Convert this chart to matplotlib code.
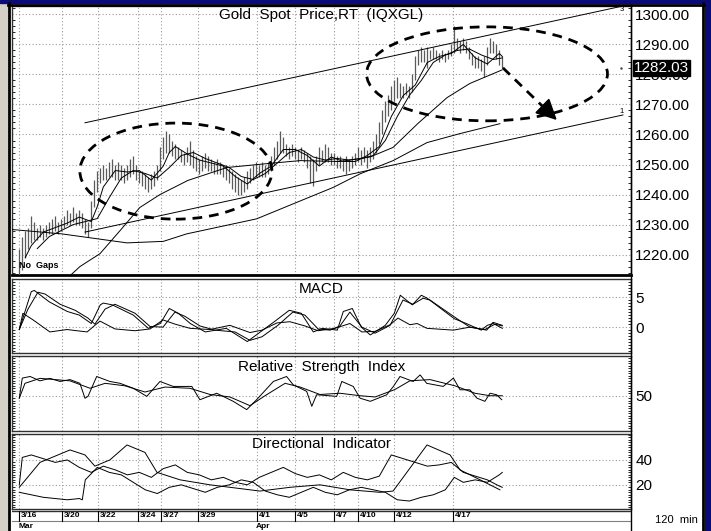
import matplotlib
matplotlib.use('Agg')
import matplotlib.pyplot as plt
from matplotlib.patches import Ellipse, Rectangle
from matplotlib.lines import Line2D
from matplotlib.ticker import MultipleLocator

plt.rcParams['font.family'] = ['Liberation Sans', 'DejaVu Sans']

# ---------------- data ----------------
date_labels = ['3/16', '3/20', '3/22', '3/24', '3/27', '3/29', '4/1', '4/5', '4/7', '4/10', '4/12', '4/17']
date_pos = [0, 14.2, 26.3, 39.5, 47.1, 59.6, 79.1, 92, 105, 112.9, 125, 144.7]
month_labels = ['Mar', 'Apr']
month_pos = [0, 79.1]

bar_high = [1222, 1226, 1228, 1229, 1233, 1231, 1229, 1230, 1229, 1230,
            1231, 1232, 1233, 1231, 1232, 1233, 1235, 1234, 1236, 1234,
            1235, 1234, 1232, 1231, 1238, 1245, 1248, 1249, 1250, 1249,
            1251, 1252, 1250, 1251, 1250, 1249, 1250, 1252, 1253, 1250,
            1248, 1248, 1247, 1246, 1247, 1248, 1250, 1256, 1259, 1261,
            1260, 1258, 1257, 1256, 1255, 1254, 1256, 1258, 1255, 1253,
            1252, 1253, 1254, 1253, 1252, 1251, 1252, 1251, 1250, 1250,
            1249, 1248, 1247, 1246, 1245, 1246, 1248, 1249, 1250, 1251,
            1250, 1251, 1250, 1251, 1253, 1256, 1258, 1261, 1259, 1257,
            1256, 1257, 1256, 1255, 1256, 1255, 1254, 1253, 1252, 1253,
            1256, 1255, 1257, 1256, 1254, 1254, 1253, 1253, 1252, 1253,
            1252, 1253, 1254, 1256, 1255, 1256, 1255, 1256, 1258, 1260,
            1264, 1268, 1271, 1273, 1276, 1278, 1279, 1277, 1276, 1277,
            1276, 1280, 1286, 1288, 1289, 1288, 1289, 1288, 1289, 1288,
            1287, 1288, 1287, 1288, 1290, 1296, 1292, 1291, 1292, 1291,
            1289, 1287, 1286, 1286, 1285, 1286, 1289, 1292, 1291, 1290,
            1288, 1286]
bar_low = [1213, 1215, 1219, 1222, 1224, 1225, 1225, 1226, 1225, 1226,
           1227, 1227, 1228, 1227, 1228, 1229, 1230, 1230, 1231, 1230,
           1230, 1229, 1227, 1226, 1229, 1236, 1241, 1244, 1245, 1245,
           1246, 1246, 1245, 1245, 1245, 1244, 1245, 1246, 1247, 1245,
           1244, 1243, 1242, 1241, 1242, 1243, 1245, 1248, 1252, 1254,
           1254, 1253, 1252, 1252, 1251, 1250, 1251, 1250, 1249, 1248,
           1247, 1248, 1249, 1248, 1248, 1247, 1247, 1247, 1246, 1245,
           1244, 1242, 1241, 1240, 1240, 1241, 1242, 1244, 1245, 1246,
           1246, 1246, 1246, 1247, 1248, 1250, 1252, 1254, 1254, 1253,
           1252, 1253, 1252, 1251, 1252, 1251, 1249, 1244, 1243, 1248,
           1250, 1251, 1251, 1251, 1250, 1250, 1249, 1249, 1248, 1247,
           1248, 1249, 1250, 1251, 1250, 1251, 1249, 1251, 1252, 1254,
           1257, 1260, 1264, 1266, 1268, 1271, 1272, 1272, 1272, 1273,
           1272, 1274, 1278, 1283, 1284, 1284, 1282, 1285, 1285, 1285,
           1284, 1285, 1284, 1285, 1286, 1287, 1288, 1287, 1288, 1287,
           1285, 1283, 1282, 1282, 1281, 1279, 1283, 1287, 1287, 1285,
           1283, 1282]
last_price = 1282.03

ma_fast_x = [2, 4, 8, 12, 16, 20, 24, 26, 28, 32, 36, 40, 44, 48, 50, 52, 56, 60, 64, 68,
             72, 76, 80, 84, 88, 92, 96, 100, 104, 108, 112, 116, 120, 124, 128, 132, 136,
             140, 144, 148, 152, 156, 160, 161]
ma_fast_y = [1219, 1223, 1227.5, 1229, 1230.5, 1232.5, 1231, 1236, 1242.5, 1248, 1247.5, 1248,
             1244.8, 1249.5, 1254, 1256, 1253.5, 1251.5, 1250.5, 1249.5, 1246, 1243.5, 1247,
             1249.5, 1255, 1255, 1253, 1249.5, 1252.5, 1251, 1251, 1253, 1256, 1266, 1273,
             1276.5, 1284, 1286, 1287, 1290, 1285.5, 1283.5, 1287, 1286]
ma_mid_x = [6, 10, 14, 18, 22, 26, 30, 34, 38, 42, 46, 50, 54, 58, 62, 66, 70, 74, 78, 82,
            86, 90, 94, 98, 102, 106, 110, 114, 118, 122, 126, 130, 134, 138, 142, 146, 150,
            154, 158, 161]
ma_mid_y = [1222, 1226, 1228, 1230, 1231, 1232, 1239, 1245.5, 1248, 1247, 1245.5, 1249, 1253,
            1254, 1252, 1250.5, 1249, 1246, 1245, 1247, 1250.5, 1254, 1255, 1252.5, 1251.5,
            1252, 1251.5, 1252, 1253, 1258, 1266, 1273, 1278, 1284, 1286.5, 1288, 1288.5,
            1286.5, 1285, 1285.5]
ma_slow_x = [14, 16.2, 20.2, 26.9, 33.6, 40.2, 46.9, 56.2, 69.2, 82.6, 93.6, 106.9, 116.9,
             124.6, 132.9, 142.6, 150.2, 160.9]
ma_slow_y = [1208, 1212.3, 1216, 1220.3, 1228, 1235.7, 1240, 1244.7, 1249, 1250.3, 1251.3,
             1251, 1252.5, 1255.7, 1263.7, 1272.3, 1277, 1281.5]
ma_long_x = [-3, 14.1, 35.9, 48, 55.8, 79.1, 104.7, 113.6, 124.6, 135.9, 146.9, 160.2]
ma_long_y = [1228.4, 1226.9, 1223.9, 1224.4, 1226.9, 1231.9, 1242.4, 1246.9, 1251.3, 1257.3,
             1260.3, 1263.6]

trend_upper_x = [21.9, 201.2]
trend_upper_y = [1263.9, 1302.8]
trend_lower_x = [21.9, 201.2]
trend_lower_y = [1227.5, 1266.5]

macd_x = [0, 4, 5, 10, 16, 20, 24, 27, 28, 31, 38, 43, 47, 50, 53, 57, 62, 69, 76, 79, 85,
          90, 94, 98, 101, 106, 108, 111, 114, 117, 122, 125, 127, 131, 134, 136, 145, 149,
          154, 156, 158, 161]
macd_y = [-0.4, 5.9, 6.1, 4.2, 2.6, 2.0, 0.6, 3.7, 4.0, 3.7, 2.0, -0.2, 0.6, 3.1, 2.3, 0.6,
          -0.8, -0.2, -2.4, -1.3, 0.9, 2.8, 2.3, -0.8, -0.2, -0.5, 2.6, 3.1, 0.0, -1.3, 0.3,
          2.3, 5.3, 3.7, 5.3, 4.8, 1.4, 0.6, -0.5, 0.3, 0.6, -0.2]
signal_x = [0, 2.9, 6.2, 8.6, 13.6, 18.6, 22.9, 25.2, 28.6, 31.9, 38.6, 43.6, 47.9, 51.9,
            55.2, 60.2, 65.2, 71.9, 76.9, 80.9, 86.2, 91.2, 95.2, 99.6, 103.6, 106.9, 110.2,
            114.2, 118.6, 123.6, 127.9, 131.2, 134.6, 136.9, 146.2, 150.2, 155.2, 158.6, 161]
signal_y = [-0.4, 3.0, 5.8, 5.5, 3.8, 2.8, 1.5, 0.5, 3.0, 3.8, 2.3, 0.1, 0.0, 2.5, 1.8, 0.2,
            -0.5, -0.8, -2.2, -1.6, 0.3, 2.5, 2.0, -0.3, -0.5, 0.2, 2.5, 0.0, -1.0, 0.3, 4.5,
            3.8, 4.8, 4.5, 1.3, 0.0, -0.4, 0.5, 0.2]
osc_x = [0, 1.2, 4.6, 10.2, 15.9, 22.6, 25.2, 26.9, 31.9, 38.6, 43.6, 47.9, 51.9, 56.9, 63.6,
         70.2, 76.9, 80.9, 85.9, 90.2, 95.2, 99.6, 105.2, 110.2, 114.2, 118.6, 123.6, 126.2,
         130.2, 132.6, 135.9, 144.7, 150.2, 155.8, 157.9, 161]
osc_y = [-0.4, 2.3, 1.2, -0.8, -0.4, -0.8, 0.3, 1.0, -0.3, -0.6, -0.3, 1.2, 0.5, -0.2, -0.4,
         0.3, -0.9, -0.5, 0.7, 0.9, 0.2, -0.6, -0.2, 0.6, -0.8, -0.7, 0.4, 1.5, 0.4, 0.6,
         -0.2, -0.5, 0.0, -0.5, 0.8, 0.3]

rsi_x = [0, 1, 3.6, 6.9, 10.2, 13.6, 16.9, 20.2, 21.9, 22.9, 25.8, 30.2, 33.6, 38, 42.5, 46.9,
         51.3, 57.5, 60.2, 65.8, 71.3, 75.8, 79.1, 84.7, 89.1, 91.3, 95.8, 97.5, 99.1, 105.8,
         107.5, 111.3, 113.6, 117, 122.5, 124.7, 126.9, 131.3, 133.6, 135.8, 141.3, 144.7,
         146.9, 150.2, 152.5, 155.2, 156.9, 159.1, 160.8]
rsi_y = [48.1, 64.2, 65.5, 62, 64, 61.5, 63, 60, 48, 49.5, 65.5, 61.5, 60, 56, 49.5, 61.5,
         57.5, 57.5, 46.8, 52, 45.5, 38.8, 46.8, 61.5, 65.5, 58.8, 53.5, 41.5, 50.8, 49.5,
         61.5, 57.5, 48, 45.5, 50.8, 57.5, 65.5, 61.5, 66.8, 60, 57.5, 64.2, 54.8, 54.8,
         48.1, 45.5, 52, 50.8, 46.8]
rsi_avg_x = [0, 1.9, 6.9, 16.9, 23.6, 28.6, 35.2, 41.9, 48.6, 56.9, 63.6, 70.2, 76.9, 81.9,
             88.6, 93.6, 100.2, 106.9, 113.6, 118.6, 125.2, 130.2, 136.9, 145.2, 151.9, 156.9, 161]
rsi_avg_y = [48, 60, 64, 62, 56, 60, 58, 53, 57, 56, 51, 49, 42, 50, 60, 57, 51, 52, 50, 49,
             55, 62, 63, 58, 52, 50, 50]

adx_x = [0, 6.9, 16.9, 21.9, 25.2, 30.2, 35.9, 41.9, 45.9, 53.6, 63.6, 73.6, 80.2, 90.2,
         100.2, 110.2, 120.2, 124.6, 135.9, 143.6, 146.9, 153.6, 160.2]
adx_y = [18, 38, 48, 44, 35, 40, 52, 46, 30, 24, 20, 17, 15, 18, 20, 16, 14, 15, 52, 44, 32,
         24, 16]
pdi_x = [0, 1, 4, 8, 12, 16, 20, 24, 28, 32, 36, 40, 44, 48, 52, 56, 60, 64, 68, 72, 76, 80,
         84, 88, 92, 96, 100, 104, 108, 112, 116, 120, 124, 128, 132, 136, 140, 144, 148,
         152, 156, 160, 161]
pdi_y = [20, 42, 44, 41, 38, 40, 34, 30, 35, 32, 28, 30, 26, 33, 36, 30, 28, 24, 26, 22, 20,
         26, 30, 34, 29, 26, 28, 24, 30, 26, 24, 27, 44, 41, 38, 35, 36, 38, 30, 27, 24, 19, 18]
mdi_x = [0, 4, 8, 12, 16, 20, 21, 22, 26, 30, 34, 38, 42, 46, 50, 54, 58, 62, 66, 70, 74, 78,
         82, 86, 90, 94, 98, 102, 106, 110, 114, 118, 122, 126, 130, 134, 138, 142, 145, 148,
         152, 156, 160, 161]
mdi_y = [14, 12, 10, 9, 8, 9, 8, 24, 34, 30, 28, 22, 16, 13, 18, 20, 17, 14, 18, 20, 24, 22,
         15, 12, 10, 14, 18, 14, 12, 16, 18, 16, 14, 8, 7, 10, 12, 16, 26, 22, 24, 22, 28, 30]

# ---------------- layout ----------------
W, H = 711, 531
fig = plt.figure(figsize=(W / 100, H / 100), dpi=100)
fig.patch.set_facecolor('white')


def frect(x0, y0, x1, y1):
    return [x0 / W, 1 - y1 / H, (x1 - x0) / W, (y1 - y0) / H]


def fx(x):
    return x / W


def fy(y):
    return 1 - y / H


# window decoration
fig.add_artist(Rectangle((0, 0), fx(8), 1, transform=fig.transFigure, color='#d4d0c8', zorder=0))
fig.add_artist(Rectangle((0, fy(3)), 1, 3 / H, transform=fig.transFigure, color='#0a0a78', zorder=0))
fig.add_artist(Rectangle((fx(705), 0), 6 / W, 1, transform=fig.transFigure, color='#0a0a78', zorder=0))
for xx in (9, 703):
    fig.add_artist(Line2D([fx(xx), fx(xx)], [0, fy(3)], transform=fig.transFigure, color='black', lw=2.0))
fig.add_artist(Line2D([fx(8), fx(704)], [fy(4.5), fy(4.5)], transform=fig.transFigure, color='black', lw=2.0))
fig.add_artist(Line2D([fx(631), fx(631)], [0, fy(5)], transform=fig.transFigure, color='black', lw=1.0))

XL = (-2.43, 203.9)
grid_kw = dict(color='#9a9a9a', lw=0.8, linestyle=(0, (1, 2)), zorder=1)


def setup(ax, ylim, yticks, fmt, minor):
    ax.set_xlim(*XL)
    ax.set_ylim(*ylim)
    ax.yaxis.tick_right()
    ax.set_yticks(yticks)
    ax.set_yticklabels([fmt.format(v) for v in yticks])
    ax.yaxis.set_minor_locator(MultipleLocator(minor))
    ax.tick_params(axis='y', which='major', length=0, pad=3, labelsize=11)
    ax.tick_params(axis='y', which='minor', left=True, right=True, direction='in',
                   length=2.5, width=0.6)
    ax.set_xticks([])
    for s in ax.spines.values():
        s.set_color('#303030')
        s.set_linewidth(1.0)
    for p in date_pos:
        ax.axvline(p, **grid_kw)
    for v in yticks:
        ax.axhline(v, **grid_kw)


ax_p = fig.add_axes(frect(12, 6, 631, 275))
ax_m = fig.add_axes(frect(12, 279, 631, 353))
ax_r = fig.add_axes(frect(12, 356, 631, 431))
ax_d = fig.add_axes(frect(12, 434, 631, 509))
ax_t = fig.add_axes(frect(12, 510, 631, 531))

price_ticks = [1220, 1230, 1240, 1250, 1260, 1270, 1280, 1290, 1300]
setup(ax_p, (1213.2, 1302.8), price_ticks, '{:.2f}', 2)
setup(ax_m, (-4.3, 8.0), [0, 5], '{:d}', 0.5)
setup(ax_r, (21.6, 82.0), [50], '{:d}', 2)
setup(ax_d, (0.6, 60.8), [20, 40], '{:d}', 2)
ax_p.spines['bottom'].set_linewidth(2.0)
ax_p.spines['bottom'].set_color('black')

# ---------------- price panel ----------------
idx = list(range(len(bar_high)))
ax_p.vlines(idx, bar_low, bar_high, colors='#5a5a5a', lw=0.9, zorder=3)
line_kw = dict(color='black', lw=0.7, zorder=4)
ax_p.plot(ma_fast_x, ma_fast_y, **line_kw)
ax_p.plot(ma_mid_x, ma_mid_y, **line_kw)
ax_p.plot(ma_slow_x, ma_slow_y, **line_kw)
ax_p.plot(ma_long_x, ma_long_y, **line_kw)
ax_p.plot(trend_upper_x, trend_upper_y, **line_kw)
ax_p.plot(trend_lower_x, trend_lower_y, **line_kw)
ax_p.text(trend_upper_x[1] - 0.5, trend_upper_y[1] - 1.0, '3', fontsize=5.5, ha='center', va='center')
ax_p.text(trend_lower_x[1] - 0.5, trend_lower_y[1] + 1.3, '1', fontsize=5.5, ha='center', va='center')

dash = (0, (3.5, 2.5))
ax_p.add_patch(Ellipse((52.2, 1247.8), 64, 32, fill=False, ec='black', lw=2.0, ls=dash, zorder=6))
ax_p.add_patch(Ellipse((155.9, 1280.2), 80.3, 31.3, fill=False, ec='black', lw=2.0, ls=dash, zorder=6))
arr_start = (161.2, 1282.2)
arr_end = (179.2, 1264.8)
ax_p.plot([arr_start[0], arr_end[0] - 2.2], [arr_start[1], arr_end[1] + 2.1], color='black',
          lw=2.0, ls=dash, zorder=6)
ax_p.annotate('', xy=arr_end, xytext=(arr_end[0] - 3.0, arr_end[1] + 2.9),
              arrowprops=dict(arrowstyle='-|>,head_length=0.9,head_width=0.45', color='black',
                              lw=1.5, mutation_scale=14, shrinkA=0, shrinkB=0), zorder=7)

ax_p.text(0.5, 0.968, 'Gold  Spot  Price,RT  (IQXGL)', transform=ax_p.transAxes,
          ha='center', va='center', fontsize=11)
ax_p.text(7 / 619, 0.02, 'No  Gaps', transform=ax_p.transAxes, ha='left', va='bottom',
          fontsize=6.5, fontweight='bold')
ax_p.text(1.005, last_price, '{:.2f}'.format(last_price), transform=ax_p.get_yaxis_transform(),
          ha='left', va='center', fontsize=11, color='white', zorder=10, clip_on=False,
          bbox=dict(facecolor='black', edgecolor='black', pad=0.8))
ax_p.plot([200.5], [last_price], marker='.', ms=1.5, color='#444444', clip_on=False)

# ---------------- MACD ----------------
ax_m.plot(macd_x, macd_y, **line_kw)
ax_m.plot(signal_x, signal_y, **line_kw)
ax_m.plot(osc_x, osc_y, **line_kw)
ax_m.text(0.5, 0.87, 'MACD', transform=ax_m.transAxes, ha='center', va='center', fontsize=11)

# ---------------- RSI ----------------
ax_r.plot(rsi_x, rsi_y, **line_kw)
ax_r.plot(rsi_avg_x, rsi_avg_y, **line_kw)
ax_r.text(0.5, 0.86, 'Relative  Strength  Index', transform=ax_r.transAxes, ha='center',
          va='center', fontsize=11)

# ---------------- DI ----------------
ax_d.plot(adx_x, adx_y, **line_kw)
ax_d.plot(pdi_x, pdi_y, **line_kw)
ax_d.plot(mdi_x, mdi_y, **line_kw)
ax_d.text(0.5, 0.86, 'Directional  Indicator', transform=ax_d.transAxes, ha='center',
          va='center', fontsize=11)

# ---------------- date axis ----------------
ax_t.set_xlim(*XL)
ax_t.set_ylim(0, 21)
ax_t.axis('off')
ax_t.axhline(20.5, color='#303030', lw=1.0)
ax_t.axhline(10.5, color='#808080', lw=0.8)
for p, lab in zip(date_pos, date_labels):
    ax_t.plot([p, p], [10.5, 20.5], color='black', lw=0.8)
    ax_t.text(p + 0.6, 15.2, lab, fontsize=6, fontweight='bold', ha='left', va='center')
for p, lab in zip(month_pos, month_labels):
    ax_t.text(p - 0.4, 5.0, lab, fontsize=6, fontweight='bold', ha='left', va='center')
fig.text(fx(676), fy(520), '120  min', fontsize=8, ha='center', va='center')

fig.savefig('out.png', dpi=100)
